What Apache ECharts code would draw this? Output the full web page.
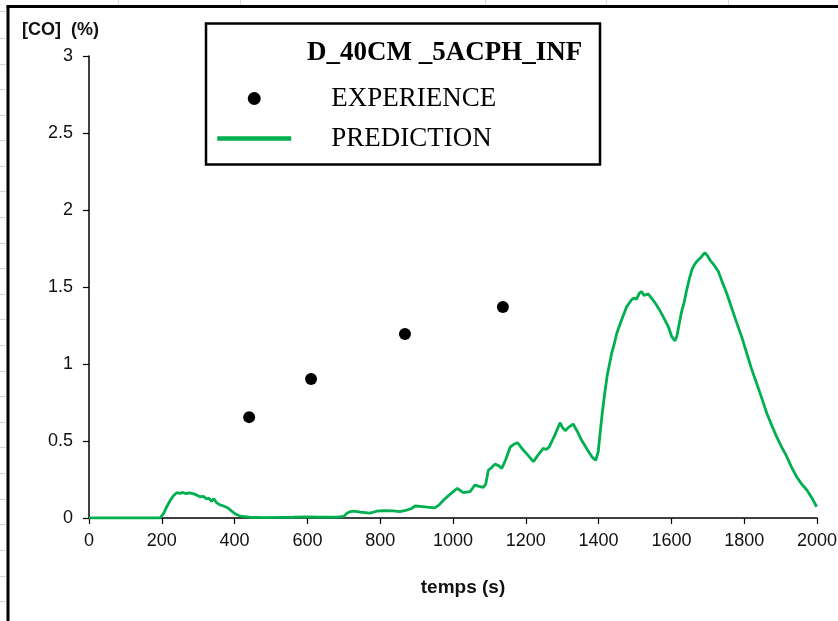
<!DOCTYPE html>
<html>
<head>
<meta charset="utf-8">
<title>D_40CM _5ACPH_INF</title>
<script src="https://cdn.jsdelivr.net/npm/echarts@6/dist/echarts.min.js"></script>
<style>
  html, body { margin: 0; padding: 0; background: #fff; }
  #chart { width: 838px; height: 621px; }
</style>
</head>
<body>
<div id="chart"></div>
<script>
// Measured CO concentration (%) against time (s)
const expTime = [440, 610, 868, 1137];
const expCO   = [0.655, 0.903, 1.195, 1.370];

// Simulated CO concentration (%) against time (s)
const predTime = [
  0, 100, 195, 200, 205, 213, 222, 232, 241, 250, 258, 266, 275, 286, 295, 305, 315, 322, 330, 337,
  343, 350, 360, 370, 382, 392, 401, 410, 420, 440, 480, 520, 560, 600, 640, 680, 700, 708, 718, 728,
  745, 772, 790, 810, 835, 854, 870, 885, 896, 910, 930, 950, 962, 975, 990, 1000, 1012, 1028, 1047, 1060,
  1072, 1083, 1090, 1097, 1105, 1115, 1125, 1134, 1145, 1157, 1167, 1177, 1190, 1205, 1221, 1234, 1248, 1256, 1264, 1280,
  1294, 1300, 1308, 1318, 1330, 1342, 1353, 1370, 1384, 1392, 1399, 1404, 1410, 1418, 1424, 1436, 1443, 1450, 1463, 1477,
  1490, 1498, 1504, 1512, 1518, 1525, 1536, 1548, 1559, 1570, 1582, 1592, 1601, 1610, 1615, 1619, 1628, 1635, 1642, 1650,
  1656, 1662, 1669, 1680, 1692, 1700, 1706, 1718, 1729, 1740, 1752, 1766, 1780, 1794, 1807, 1820, 1834, 1848, 1862, 1876,
  1889, 1903, 1917, 1930, 1944, 1958, 1972, 1986, 1999
];
const predCO = [
  0, 0, 0, 0.005, 0.03, 0.07, 0.11, 0.145, 0.164, 0.16, 0.166, 0.158, 0.163, 0.158, 0.15, 0.138, 0.14, 0.125, 0.128, 0.108,
  0.125, 0.1, 0.085, 0.078, 0.065, 0.045, 0.028, 0.018, 0.01, 0.005, 0.003, 0.004, 0.005, 0.007, 0.005, 0.006, 0.01, 0.03, 0.042, 0.045,
  0.038, 0.032, 0.044, 0.047, 0.046, 0.042, 0.05, 0.06, 0.078, 0.075, 0.07, 0.066, 0.085, 0.118, 0.15, 0.17, 0.193, 0.165, 0.171, 0.214,
  0.205, 0.199, 0.22, 0.31, 0.325, 0.35, 0.34, 0.322, 0.38, 0.46, 0.478, 0.489, 0.45, 0.41, 0.366, 0.41, 0.452, 0.445, 0.46, 0.54,
  0.619, 0.59, 0.567, 0.59, 0.61, 0.56, 0.506, 0.44, 0.39, 0.375, 0.43, 0.55, 0.68, 0.83, 0.93, 1.07, 1.13, 1.2, 1.286, 1.372,
  1.416, 1.43, 1.42, 1.46, 1.47, 1.445, 1.455, 1.42, 1.383, 1.34, 1.286, 1.24, 1.177, 1.151, 1.18, 1.23, 1.34, 1.4, 1.48, 1.56,
  1.61, 1.64, 1.664, 1.69, 1.723, 1.7, 1.675, 1.64, 1.6, 1.53, 1.459, 1.36, 1.264, 1.17, 1.07, 0.97, 0.875, 0.78, 0.68, 0.6,
  0.528, 0.46, 0.398, 0.33, 0.268, 0.22, 0.182, 0.13, 0.073
];

const seriesNames = ['EXPERIENCE', 'PREDICTION'];
const legendTitle = 'D_40CM _5ACPH_INF';
const xTitle = 'temps (s)';
const yTitle = '[CO]  (%)';

const expPoints = expTime.map((t, i) => [t, expCO[i]]);
const predPoints = predTime.map((t, i) => [t, predCO[i]]);

// Worksheet cell lines showing around the chart frame
const sheetGrey = '#d6d6d6';
const colLinesX = [118, 240, 485, 606, 728];
const rowLinesY = [11, 38, 64, 89, 115, 140, 166, 191, 217, 243, 268, 294, 319, 345, 371, 396, 422, 447, 473, 499, 524, 550, 576, 601];
const sheetLines = [];
colLinesX.forEach(x => sheetLines.push({
  type: 'line', silent: true, z: 0,
  shape: { x1: x + 0.5, y1: 0, x2: x + 0.5, y2: 5 },
  style: { stroke: sheetGrey, lineWidth: 1 }
}));
rowLinesY.forEach(y => sheetLines.push({
  type: 'line', silent: true, z: 0,
  shape: { x1: 0, y1: y + 0.5, x2: 6, y2: y + 0.5 },
  style: { stroke: sheetGrey, lineWidth: 1 }
}));

const chart = echarts.init(document.getElementById('chart'), null, { renderer: 'canvas' });

chart.setOption({
  backgroundColor: '#ffffff',
  animation: false,
  textStyle: { fontFamily: 'Liberation Sans, Arial, sans-serif' },
  grid: {
    left: 89, right: 21, top: 56, bottom: 103,
    containLabel: false,
    outerBoundsMode: 'none'
  },
  xAxis: {
    type: 'value',
    min: 0, max: 2000, interval: 200,
    name: xTitle,
    nameLocation: 'middle',
    nameGap: 60,
    nameTextStyle: { fontSize: 19, fontWeight: 'bold', color: '#111', padding: [0, 0, 0, 20] },
    axisLine: { show: true, onZero: false, lineStyle: { color: '#000', width: 1.5 } },
    axisTick: { show: true, length: 6, lineStyle: { color: '#000', width: 1.2 } },
    axisLabel: { fontSize: 18, color: '#111', margin: 14, formatter: v => String(v) },
    splitLine: { show: false }
  },
  yAxis: {
    type: 'value',
    min: 0, max: 3, interval: 0.5,
    axisLine: { show: true, onZero: false, lineStyle: { color: '#000', width: 1.5 } },
    axisTick: { show: true, length: 6, lineStyle: { color: '#000', width: 1.2 } },
    axisLabel: { fontSize: 18, color: '#111', margin: 16, formatter: v => String(v) },
    splitLine: { show: false }
  },
  legend: {
    orient: 'vertical',
    left: 215,
    top: 85,
    itemWidth: 74,
    itemHeight: 13,
    itemGap: 13,
    padding: 0,
    textStyle: {
      fontFamily: 'Liberation Serif, Times New Roman, serif',
      fontSize: 27,
      lineHeight: 27,
      color: '#000',
      padding: [0, 0, 0, 35]
    },
    data: [
      { name: seriesNames[0], icon: 'circle', itemStyle: { color: '#000', opacity: 1 } },
      { name: seriesNames[1], lineStyle: { width: 4.5, color: '#00b050' }, itemStyle: { opacity: 0 } }
    ]
  },
  graphic: [
    ...sheetLines,
    // chart frame
    { type: 'line', silent: true, z: 1, shape: { x1: 8, y1: 6, x2: 8, y2: 621 }, style: { stroke: '#000', lineWidth: 3 } },
    { type: 'line', silent: true, z: 1, shape: { x1: 6.5, y1: 6.5, x2: 838, y2: 6.5 }, style: { stroke: '#000', lineWidth: 3 } },
    // legend box and heading
    { type: 'rect', silent: true, z: 1, shape: { x: 206, y: 23.5, width: 394, height: 141 }, style: { fill: 'none', stroke: '#000', lineWidth: 2.5 } },
    { type: 'text', silent: true, z: 2, left: 307, top: 40,
      style: { text: legendTitle, font: 'bold 27px "Liberation Serif", "Times New Roman", serif', fill: '#000' } },
    // y axis title
    { type: 'text', silent: true, z: 2, left: 22, top: 21,
      style: { text: yTitle, font: 'bold 18px "Liberation Sans", Arial, sans-serif', fill: '#111' } }
  ],
  series: [
    {
      name: seriesNames[0],
      type: 'scatter',
      data: expPoints,
      symbol: 'circle',
      symbolSize: 12,
      itemStyle: { color: '#000', opacity: 1 },
      z: 3
    },
    {
      name: seriesNames[1],
      type: 'line',
      data: predPoints,
      showSymbol: false,
      symbol: 'none',
      lineStyle: { color: '#00b050', width: 2.8 },
      itemStyle: { color: '#00b050' },
      z: 2
    }
  ]
});
</script>
</body>
</html>
